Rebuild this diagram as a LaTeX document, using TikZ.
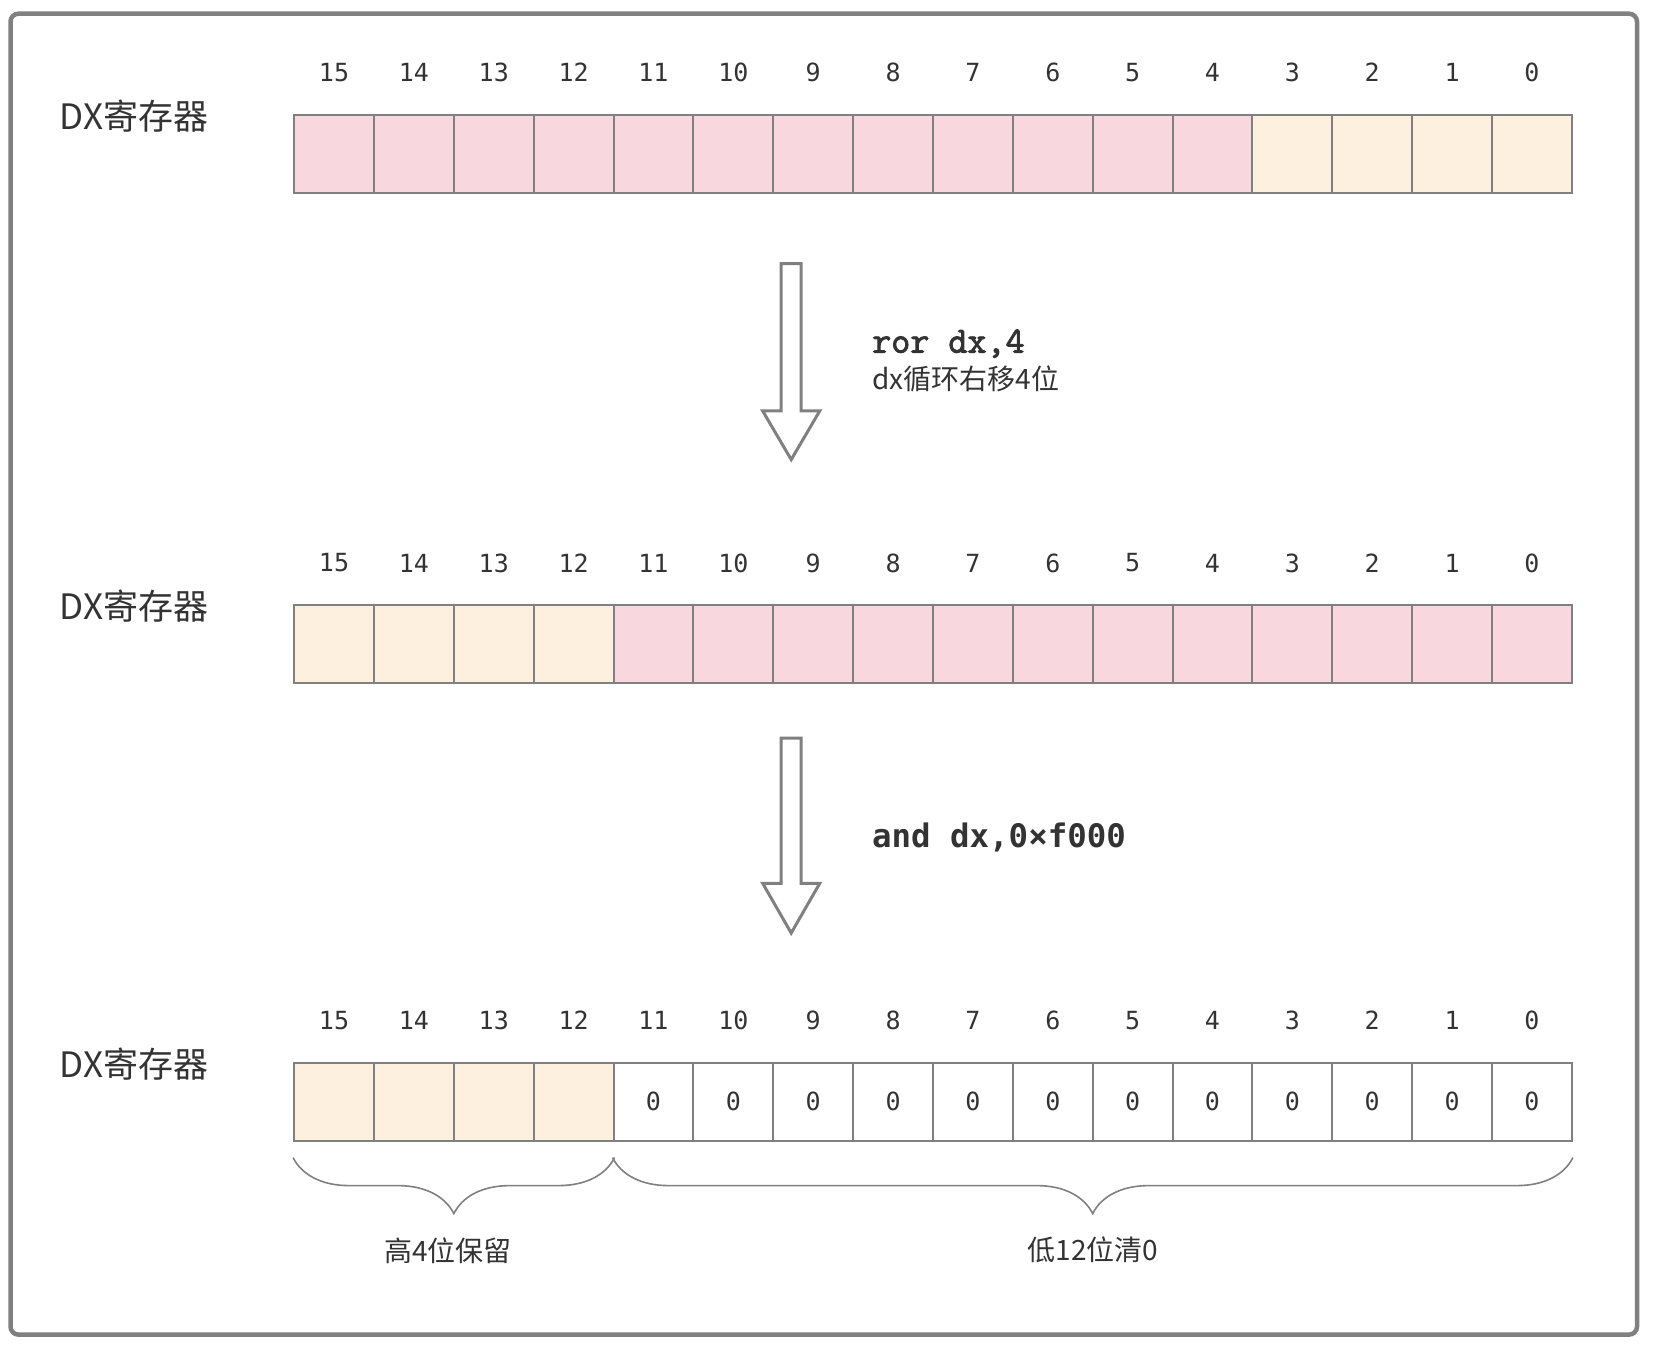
\documentclass[tikz,border=0pt]{standalone}
\usepackage{fontspec}
\setmonofont{DejaVu Sans Mono}
\newfontfamily\cjk{Noto Sans CJK SC}
\newfontfamily\slabmono{Latin Modern Mono}[FakeBold=2.5]
\usetikzlibrary{decorations.pathreplacing}

\definecolor{bitpink}{RGB}{248,216,222}
\definecolor{bitcream}{RGB}{253,240,222}
\definecolor{lineg}{RGB}{128,128,128}
\definecolor{txt}{RGB}{51,51,51}

\begin{document}
\begin{tikzpicture}[x=0.5pt, y=-0.5pt,
    cell/.style={draw=lineg, line width=1pt, minimum width=39.93pt, minimum height=39pt,
        inner sep=0pt, font=\ttfamily\fontsize{12.5}{14}\selectfont, text=txt},
    bitnum/.style={font=\ttfamily\fontsize{12.5}{14}\selectfont, text=txt},
    reglabel/.style={font=\cjk\fontsize{17.5}{20}\selectfont, text=txt},
    note/.style={font=\cjk\fontsize{14}{16}\selectfont, text=txt, inner sep=0pt},
    opcode/.style={font=\ttfamily\bfseries\fontsize{16.2}{18}\selectfont, text=txt, inner sep=0pt},
    bigarrow/.style={draw=lineg, line width=1.5pt, fill=white},
    brace/.style={draw=lineg, line width=0.8pt, decorate,
        decoration={brace, mirror, amplitude=28pt}}]
    \useasboundingbox (0,0) rectangle (1653,1347);
    \draw[lineg, line width=2.25pt, rounded corners=4pt] (10.5,13.7) rectangle (1637,1334.6);

    % three copies of the register
    \foreach \r/\top/\hi/\lo/\split/\z in {a/114.9/bitpink/bitcream/12/{},
                                         b/605.1/bitcream/bitpink/4/{},
                                         c/1062.6/bitcream/white/4/0} {
        \node[reglabel] (\r lbl) at (133.9,\top+1) {DX寄存器};
        \foreach \i in {0,...,15} {
            \pgfmathtruncatemacro\bit{15-\i}
            \ifnum\i<\split \def\cfill{\hi}\def\ctext{}\else \def\cfill{\lo}\def\ctext{\z}\fi
            \node[cell, fill=\cfill] (\r\bit) at ({294.1+79.86*(\i+0.5)},{\top+39}) {\ctext};
            \node[bitnum] (\r n\bit) at ({294.1+79.86*(\i+0.5)},{\top-42.2}) {\bit};
        }
    }

    % hollow arrows between the steps
    \foreach \ytop/\yhead/\ytip in {263.6/411/459.6, 738/883.4/933} {
        \draw[bigarrow] (781.2,\ytop) -- (781.2,\yhead) -- (762.7,\yhead) -- (791.2,\ytip)
            -- (819.7,\yhead) -- (801.2,\yhead) -- (801.2,\ytop) -- cycle;
    }
    \node[opcode, font=\slabmono\fontsize{18.5}{20}\selectfont, anchor=west] (ror) at (871.8,343.7) {ror dx,4};
    \node[note, anchor=west] (rornote) at (871.8,378.5) {dx循环右移4位};
    \node[opcode, anchor=west] (andop) at (871.8,837) {and dx,0×f000};

    % braces under the last register
    \draw[brace] ([yshift=-8pt]c15.south west) -- ([yshift=-8pt]c12.south east);
    \draw[brace] ([yshift=-8pt]c11.south west) -- ([yshift=-8pt]c0.south east);
    \node[note] (keep) at (448,1250.3) {高4位保留};
    \node[note] (clear) at (1093,1250.3) {低12位清0};
\end{tikzpicture}
\end{document}
